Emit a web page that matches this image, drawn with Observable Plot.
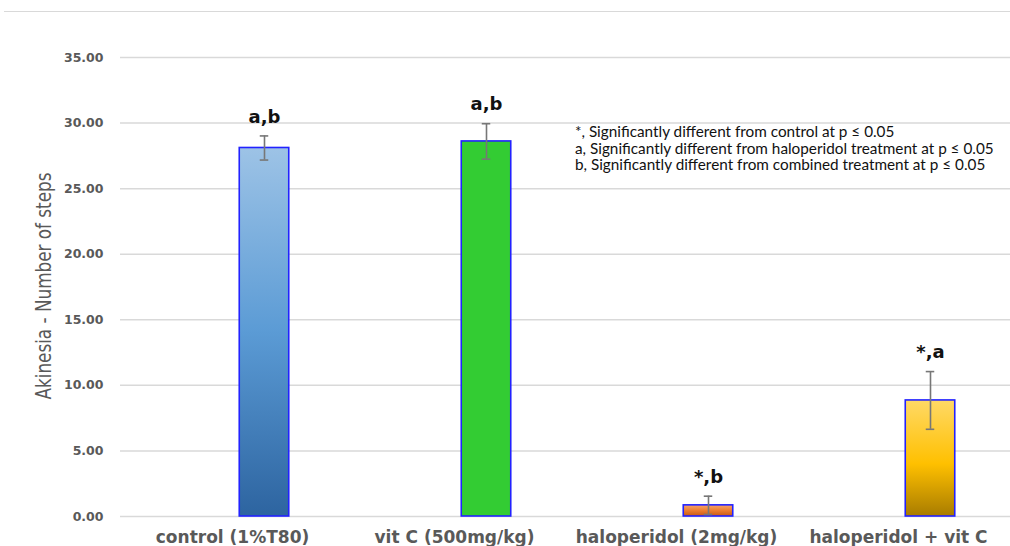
<!DOCTYPE html>
<html>
<head>
<meta charset="utf-8">
<script src="https://cdn.jsdelivr.net/npm/d3@7"></script>
<script src="https://cdn.jsdelivr.net/npm/@observablehq/plot@0.6"></script>
<style>
  html, body { margin: 0; padding: 0; background: #fff; }
  #wrap { position: relative; width: 1010px; height: 546px; overflow: hidden; }
  #topline { position: absolute; top: 11px; left: 4px; right: 0; border-top: 1px solid #d9d9d9; }
  #notes { position: absolute; left: 575px; top: 123px; font-family: Lato, "Open Sans", sans-serif; font-size: 15.3px; line-height: 16.5px; color: #111; white-space: nowrap; }
  .ylab text { font-stretch: condensed; }
</style>
</head>
<body>
<div id="wrap">
  <div id="topline"></div>
  <div id="chart"></div>
  <div id="notes"></div>
</div>
<script>
const categories = ["control (1%T80)", "vit C (500mg/kg)", "haloperidol (2mg/kg)", "haloperidol + vit C"];
const means = [28.1, 28.6, 0.85, 8.85];
const errors = [0.92, 1.35, 0.7, 2.2];
const sigLabels = ["a,b", "a,b", "*,b", "*,a"];
const yTicks = [0, 5, 10, 15, 20, 25, 30, 35];
const notes = [
  "*, Significantly different from control at p \u2264 0.05",
  "a, Significantly different from haloperidol treatment at p \u2264 0.05",
  "b, Significantly different from combined treatment at p \u2264 0.05"
];
const yLabel = "Akinesia - Number of steps";

const fills = ["url(#g0)", "url(#g1)", "url(#g2)", "url(#g3)"];
const data = categories.map((c, i) => ({cat: c, mean: means[i], err: errors[i], lab: sigLabels[i], fill: fills[i]}));

const W = 1010, H = 546;
const step = (W - 120) / categories.length;
const off = 32, half = 25, cap = 4.5;

const plot = Plot.plot({
  width: W, height: H,
  marginLeft: 120, marginRight: 0, marginTop: 57, marginBottom: 30,
  style: {fontFamily: "DejaVu Sans, Verdana, sans-serif", background: "transparent"},
  x: {domain: categories, padding: 0, label: null},
  y: {domain: [0, 35], label: null},
  color: {type: "identity"},
  marks: [
    Plot.ruleY(yTicks, {stroke: "#d9d9d9", strokeWidth: 1.5}),
    Plot.axisY(yTicks, {tickSize: 0, tickPadding: 17, tickFormat: d => d.toFixed(2), fontSize: 12.5, fontWeight: "bold", fill: "#595959", label: null}),
    Plot.axisX({tickSize: 0, tickPadding: 14, fontSize: 17, fontWeight: "bold", fill: "#595959", label: null}),
    Plot.barY(data, {x: "cat", y: "mean", fill: "fill", stroke: "#2222ff", strokeWidth: 1.6,
      insetLeft: step / 2 + off - half, insetRight: step / 2 - off - half}),
    Plot.ruleX(data, {x: "cat", y1: d => d.mean - d.err, y2: d => d.mean + d.err, dx: off, stroke: "#777", strokeWidth: 1.6}),
    Plot.tickY(data, {x: "cat", y: d => d.mean - d.err, stroke: "#777", strokeWidth: 1.6,
      insetLeft: step / 2 + off - cap, insetRight: step / 2 - off - cap}),
    Plot.tickY(data, {x: "cat", y: d => d.mean + d.err, stroke: "#777", strokeWidth: 1.6,
      insetLeft: step / 2 + off - cap, insetRight: step / 2 - off - cap}),
    Plot.text(data, {x: "cat", y: d => d.mean + d.err, text: "lab", dx: off, dy: -19, fontSize: 18, fontWeight: "bold", fill: "#111"}),
    Plot.text([yLabel], {frameAnchor: "left", textAnchor: "middle", rotate: -90, dx: -77, dy: -1, fontSize: 22,
      fontFamily: "DejaVu Sans Condensed, DejaVu Sans, sans-serif", fill: "#595959", className: "ylab"})
  ]
});

d3.select(plot).insert("defs", ":first-child").html(`
  <linearGradient id="g0" x1="0" y1="0" x2="0" y2="1">
    <stop offset="0" stop-color="#9dc3e6"/><stop offset="0.5" stop-color="#5b9bd5"/><stop offset="1" stop-color="#2d64a0"/>
  </linearGradient>
  <linearGradient id="g1" x1="0" y1="0" x2="0" y2="1">
    <stop offset="0" stop-color="#33cc33"/><stop offset="1" stop-color="#33cc33"/>
  </linearGradient>
  <linearGradient id="g2" x1="0" y1="0" x2="0" y2="1">
    <stop offset="0" stop-color="#f4a46a"/><stop offset="0.5" stop-color="#ed7d31"/><stop offset="1" stop-color="#c65a15"/>
  </linearGradient>
  <linearGradient id="g3" x1="0" y1="0" x2="0" y2="1">
    <stop offset="0" stop-color="#ffd966"/><stop offset="0.55" stop-color="#ffc000"/><stop offset="1" stop-color="#a87c00"/>
  </linearGradient>
`);

d3.select(plot).selectAll(".ylab text").attr("transform", function() {
  return (this.getAttribute("transform") || "") + " scale(0.85,1)";
});

document.getElementById("chart").appendChild(plot);
document.getElementById("notes").innerHTML = notes.map(n => `<div>${n}</div>`).join("");
</script>
</body>
</html>
